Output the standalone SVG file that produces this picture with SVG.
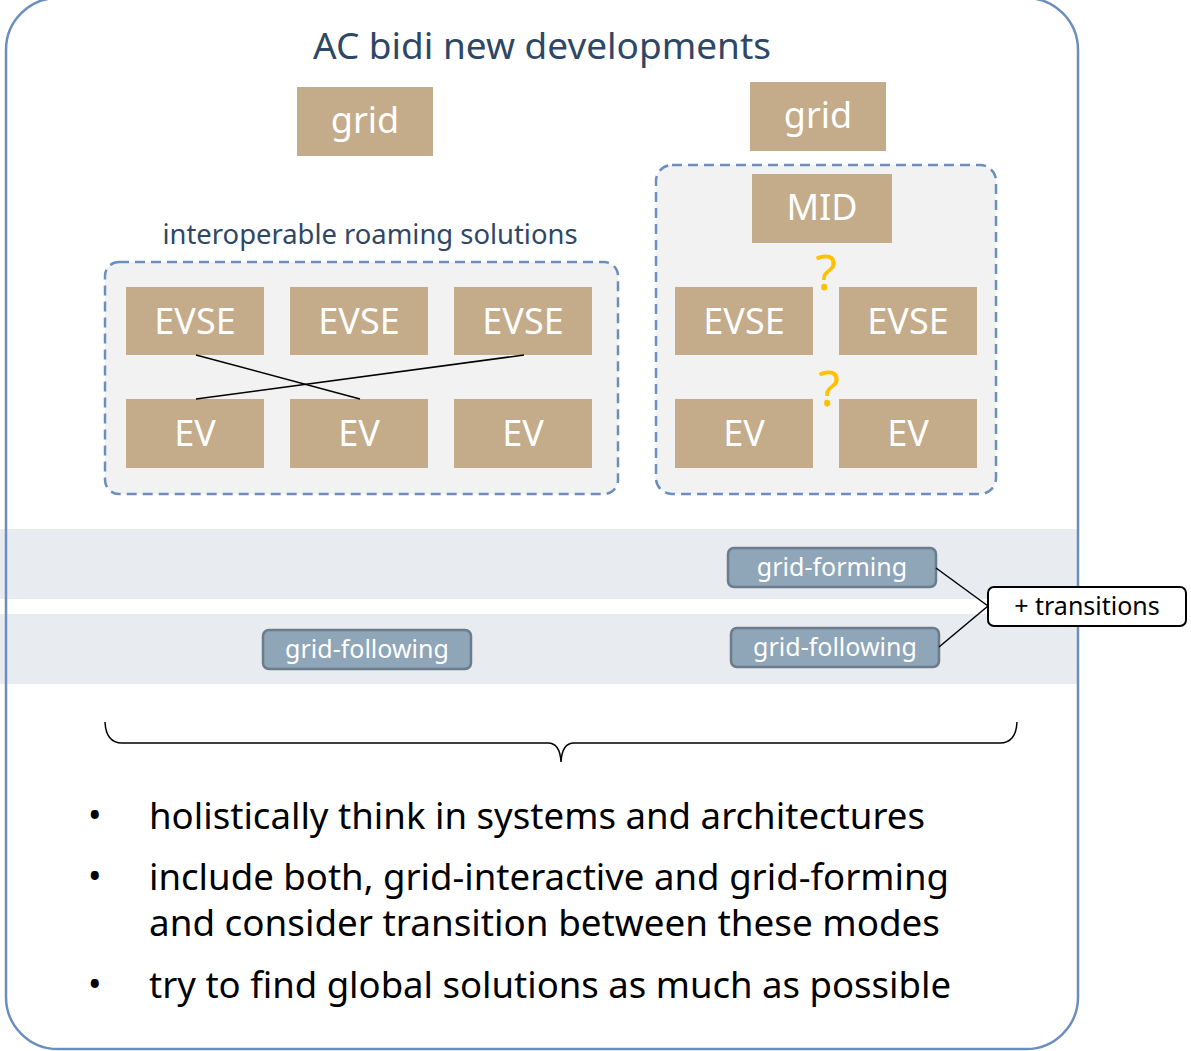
<svg xmlns="http://www.w3.org/2000/svg" width="1191" height="1051" viewBox="0 0 1191 1051">
<defs>
<style>
.t{font-family:"Noto Sans","Open Sans","Liberation Sans",sans-serif}
.box{fill:#c4ab89}
.bt{fill:#ffffff;font-size:36px;text-anchor:middle}
.grp{fill:#f2f2f2;stroke:#6c8ebf;stroke-width:2.5;stroke-dasharray:10 6}
.pill{fill:#8fa5b8;stroke:#6b7c8d;stroke-width:2.5}
.pt{fill:#ffffff;font-size:25px;text-anchor:middle}
.q{fill:#ffc000;font-size:50px;text-anchor:middle}
.ln{stroke:#000;stroke-width:1.5;fill:none}
.bl{fill:#000;font-size:36px}
</style>
</defs>
<rect x="0" y="0" width="1191" height="1051" fill="#ffffff"/>

<g id="bands">
<rect x="0" y="529" width="1078" height="70" fill="#e8ebf0"/>
<rect x="0" y="614" width="1078" height="70" fill="#e8ebf0"/>
</g>
<rect id="frame" x="6" y="-2" width="1072" height="1051" rx="52" ry="52" fill="none" stroke="#6c8ebf" stroke-width="2.5"/>
<text class="t" x="542" y="59" font-size="36" fill="#2f4766" text-anchor="middle" textLength="458" lengthAdjust="spacingAndGlyphs">AC bidi new developments</text>

<g id="grid-left"><rect class="box" x="297" y="87" width="136" height="69"/><text class="t bt" x="365" y="133">grid</text></g>
<g id="grid-right"><rect class="box" x="750" y="82" width="136" height="69"/><text class="t bt" x="818" y="128">grid</text></g>

<text class="t" x="370" y="244" font-size="27" fill="#2f4766" text-anchor="middle" textLength="415" lengthAdjust="spacingAndGlyphs">interoperable roaming solutions</text>

<g id="group-left"><rect class="grp" x="105" y="262" width="513" height="232" rx="14"/></g>
<g id="group-right"><rect class="grp" x="656" y="165" width="340" height="329" rx="16"/></g>

<g id="evse-l1"><rect class="box" x="126" y="287" width="138" height="68"/><text class="t bt" x="195" y="334">EVSE</text></g>
<g id="evse-l2"><rect class="box" x="290" y="287" width="138" height="68"/><text class="t bt" x="359" y="334">EVSE</text></g>
<g id="evse-l3"><rect class="box" x="454" y="287" width="138" height="68"/><text class="t bt" x="523" y="334">EVSE</text></g>
<g id="ev-l1"><rect class="box" x="126" y="399" width="138" height="69"/><text class="t bt" x="195" y="446">EV</text></g>
<g id="ev-l2"><rect class="box" x="290" y="399" width="138" height="69"/><text class="t bt" x="359" y="446">EV</text></g>
<g id="ev-l3"><rect class="box" x="454" y="399" width="138" height="69"/><text class="t bt" x="523" y="446">EV</text></g>

<g id="mid"><rect class="box" x="752" y="174" width="140" height="69"/><text class="t bt" x="822" y="220">MID</text></g>
<g id="evse-r1"><rect class="box" x="675" y="287" width="138" height="68"/><text class="t bt" x="744" y="334">EVSE</text></g>
<g id="evse-r2"><rect class="box" x="839" y="287" width="138" height="68"/><text class="t bt" x="908" y="334">EVSE</text></g>
<g id="ev-r1"><rect class="box" x="675" y="399" width="138" height="69"/><text class="t bt" x="744" y="446">EV</text></g>
<g id="ev-r2"><rect class="box" x="839" y="399" width="138" height="69"/><text class="t bt" x="908" y="446">EV</text></g>
<text class="t q" x="826" y="290">?</text>
<text class="t q" x="829" y="406">?</text>

<g id="grid-forming"><rect class="pill" x="728" y="548" width="208" height="39" rx="6"/><text class="t pt" x="832" y="576">grid-forming</text></g>
<g id="grid-following-r"><rect class="pill" x="731" y="628" width="208" height="39" rx="6"/><text class="t pt" x="835" y="656">grid-following</text></g>
<g id="grid-following-l"><rect class="pill" x="263" y="630" width="208" height="39" rx="6"/><text class="t pt" x="367" y="658">grid-following</text></g>
<g id="transitions"><rect x="988" y="587" width="198" height="39" rx="6" fill="#ffffff" stroke="#000" stroke-width="2"/><text class="t" x="1087" y="615" font-size="25" fill="#000" text-anchor="middle">+ transitions</text></g>

<g id="connectors">
<line class="ln" x1="196" y1="355" x2="360" y2="399"/>
<line class="ln" x1="524" y1="355" x2="196" y2="399"/>
<line class="ln" x1="936" y1="568" x2="988" y2="606"/>
<line class="ln" x1="939" y1="647" x2="988" y2="606"/>
<path class="ln" d="M105,722 Q106,743 122,743 L548,743 Q560,743 561,762 Q562,743 574,743 L1000,743 Q1016,743 1017,722"/>
</g>

<g id="bullets">
<text class="t bl" x="88" y="828">•</text>
<text class="t bl" x="149" y="829" textLength="776" lengthAdjust="spacingAndGlyphs">holistically think in systems and architectures</text>
<text class="t bl" x="88" y="889">•</text>
<text class="t bl" x="149" y="890" textLength="800" lengthAdjust="spacingAndGlyphs">include both, grid-interactive and grid-forming</text>
<text class="t bl" x="149" y="936" textLength="791" lengthAdjust="spacingAndGlyphs">and consider transition between these modes</text>
<text class="t bl" x="88" y="997">•</text>
<text class="t bl" x="149" y="998" textLength="802" lengthAdjust="spacingAndGlyphs">try to find global solutions as much as possible</text>
</g>
</svg>
